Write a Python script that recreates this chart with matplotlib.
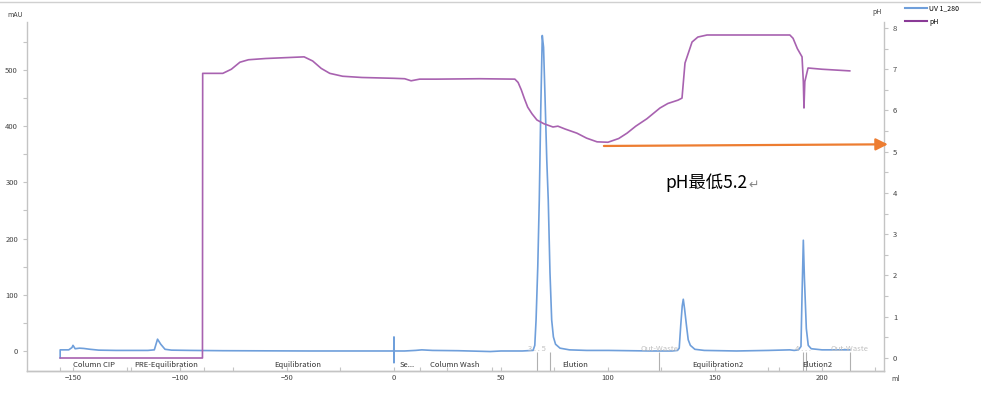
import numpy as np
import matplotlib.pyplot as plt
from matplotlib.lines import Line2D
from matplotlib.ticker import MultipleLocator
import matplotlib.transforms as mtransforms

plt.rcParams['font.family'] = ['Noto Sans CJK SC', 'DejaVu Sans']

# --- данные ---
uv_ml = [-156, -156, -152, -150.5, -150, -149, -147, -145, -142, -138, -130, -115, -112,
         -110.5, -109, -107, -104, -95, -80, -40, -0.1, 0, 0, 0.1, 5, 10, 13, 18, 30, 45,
         50, 60, 65, 65.8, 66.4, 67.2, 67.9, 68.6, 69.3, 69.9, 70.6, 71.4, 72.1, 72.9,
         73.7, 74.5, 75.5, 77.6, 82, 90, 100, 120, 130, 132.5, 133.3, 134, 134.7, 135.2,
         135.8, 136.7, 137.5, 138.5, 140.6, 145, 160, 175, 185, 187, 189, 190.2, 190.7,
         191.3, 191.8, 192.1, 192.7, 193.6, 195, 200, 213]
uv_mau = [-12, 2, 2, 6, 10, 4, 5, 4.5, 3, 1.5, 1, 1, 2,
          21, 12, 3, 1.5, 1, 0.5, 0, 0, 25, -21, 0, 0, 1, 2, 1, 0.5, -1,
          0, 0, 1, 10, 55, 150, 268, 430, 561, 540, 450, 340, 268, 140,
          55, 25, 12, 5, 2, 1, 1, 0, 0, 1, 5, 45, 80, 92,
          75, 45, 20, 10, 3, 1, 0, 1, 2, 1, 2, 8, 100,
          197, 130, 100, 40, 10, 4, 2, 2]

ph_ml = [-156, -89.5, -89.4, -80, -76, -72, -68, -60, -42, -38, -34, -30, -24, -15, 0, 5,
         8, 12, 20, 40, 56.5, 58, 59.5, 61, 62.5, 64.5, 66.8, 70, 74.3, 76.6, 80, 85.5, 90,
         94.9, 100, 105, 108.9, 113, 118.2, 124.3, 128, 132.7, 134.6, 136, 139.3, 142, 146.3,
         185, 186.5, 188.5, 190.7, 191.3, 191.6, 192.0, 193.5, 200, 213]
ph_val = [0, 0, 6.9, 6.9, 7.0, 7.17, 7.23, 7.26, 7.3, 7.2, 7.02, 6.9, 6.83, 6.8, 6.78, 6.77,
          6.72, 6.76, 6.76, 6.77, 6.76, 6.68, 6.5, 6.28, 6.08, 5.92, 5.77, 5.68, 5.6, 5.62,
          5.55, 5.45, 5.33, 5.24, 5.23, 5.32, 5.45, 5.62, 5.8, 6.06, 6.17, 6.25, 6.3, 7.15,
          7.66, 7.78, 7.83, 7.83, 7.75, 7.5, 7.3, 6.7, 6.06, 6.7, 7.03, 7.0, 6.96]

# фазы метода: подпись и её центр (мл)
phase_names = ['Column CIP', 'PRE-Equilibration', 'Equilibration', 'Se...', 'Column Wash',
               'Elution', 'Equilibration2', 'Elution2']
phase_centers = [-140, -106.5, -45, 6, 28.5, 84.6, 151.4, 197.7]
phase_bounds = [-156, -123, -89, 12, 46, 180]

# фракции
frac_ml = [67, 73, 124, 191, 192.5, 213]
frac_names = ['3 . . 5', 'Out-Waste', '4 . . .', 'Out-Waste']
frac_pos = [67, 124, 191, 213]

ph_min_text = 'pH最低5.2'
arrow_from = (98.1, 5.14)
arrow_to = (230.8, 5.18)

uv_color = '#6f9fdb'
ph_color = '#a862b0'
grey = '#c4c4c4'
tick_kw = dict(labelsize=5.5, labelcolor='#444444', color=grey, length=3, width=0.8)

fig = plt.figure(figsize=(9.81, 3.93), dpi=100)
ax = fig.add_axes([27/981, 1 - 371/393, (884 - 27)/981, (371 - 22)/393])
ax2 = ax.twinx()

ax.plot(uv_ml, uv_mau, color=uv_color, lw=1.2)
ax2.plot(ph_ml, ph_val, color=ph_color, lw=1.2)

ax.set_xlim(-171.5, 229)
ax.set_ylim(-35.6, 585)
ax2.set_ylim(-0.315, 8.145)

for a in (ax, ax2):
    a.spines['top'].set_visible(False)
    for s in a.spines.values():
        s.set_color(grey)
        s.set_linewidth(1.0)
ax2.spines['left'].set_visible(False)
ax.spines['right'].set_visible(False)

ax.xaxis.set_major_locator(MultipleLocator(50))
ax.xaxis.set_minor_locator(MultipleLocator(25))
ax.yaxis.set_major_locator(MultipleLocator(100))
ax.yaxis.set_minor_locator(MultipleLocator(50))
ax2.yaxis.set_major_locator(MultipleLocator(1))
ax2.yaxis.set_minor_locator(MultipleLocator(0.5))
ax.tick_params(axis='both', which='both', **tick_kw)
ax.tick_params(axis='both', which='minor', labelleft=False, labelbottom=False)
ax2.tick_params(axis='y', which='both', **tick_kw)
ax.tick_params(axis='x', which='both', direction='in', pad=2)
ax.set_yticks([0, 100, 200, 300, 400, 500])
ax2.set_yticks(range(0, 9))

fig.text(15/981, 1 - 15/393, 'mAU', fontsize=5, color='#444444', ha='center', va='center')
fig.text(877/981, 1 - 12/393, 'pH', fontsize=5, color='#444444', ha='center', va='center')
fig.text(896/981, 1 - 379/393, 'ml', fontsize=5, color='#444444', ha='center', va='center')

# фазы и фракции
trans = mtransforms.blended_transform_factory(ax.transData, ax.transAxes)
ax.vlines(phase_bounds, 0, 0.012, transform=trans, color=grey, lw=0.8)
ax.vlines(frac_ml, 0, 0.055, transform=trans, color='#b0b0b0', lw=0.8)
for name, c in zip(phase_names, phase_centers):
    ax.text(c, -24.9, name, fontsize=5.5, color='#333333', ha='center', va='center')
for name, c in zip(frac_names, frac_pos):
    ax.text(c, 3.5, name, fontsize=5.5, color='#c0c0c0', ha='center', va='center')

# стрелка и подпись
ax2.annotate('', xy=arrow_to, xytext=arrow_from, annotation_clip=False,
             arrowprops=dict(arrowstyle='-|>', color='#ed7d31', lw=1.6, mutation_scale=18,
                             shrinkA=0, shrinkB=0))
t = ax2.text(126.6, 4.12, ph_min_text, fontsize=12.5, color='black', ha='left', va='baseline')
ax2.annotate('↵', xy=(1, 0), xycoords=t, xytext=(1, 0), textcoords='offset points',
             fontsize=9, color='#888888', ha='left', va='bottom', family=['DejaVu Sans'])

# легенда
handles = [Line2D([], [], color=uv_color, lw=1.5), Line2D([], [], color='#8a3a96', lw=1.5)]
fig.legend(handles, ['UV 1_280', 'pH'], loc='upper left', bbox_to_anchor=(902/981, 0.997),
           fontsize=5, frameon=False, handlelength=3.2, handletextpad=0.3, labelspacing=0.8,
           borderaxespad=0)

fig.add_artist(Line2D([0, 1], [0.995, 0.995], color='#d0d0d0', lw=1.0))

fig.savefig('out.png', dpi=100)
